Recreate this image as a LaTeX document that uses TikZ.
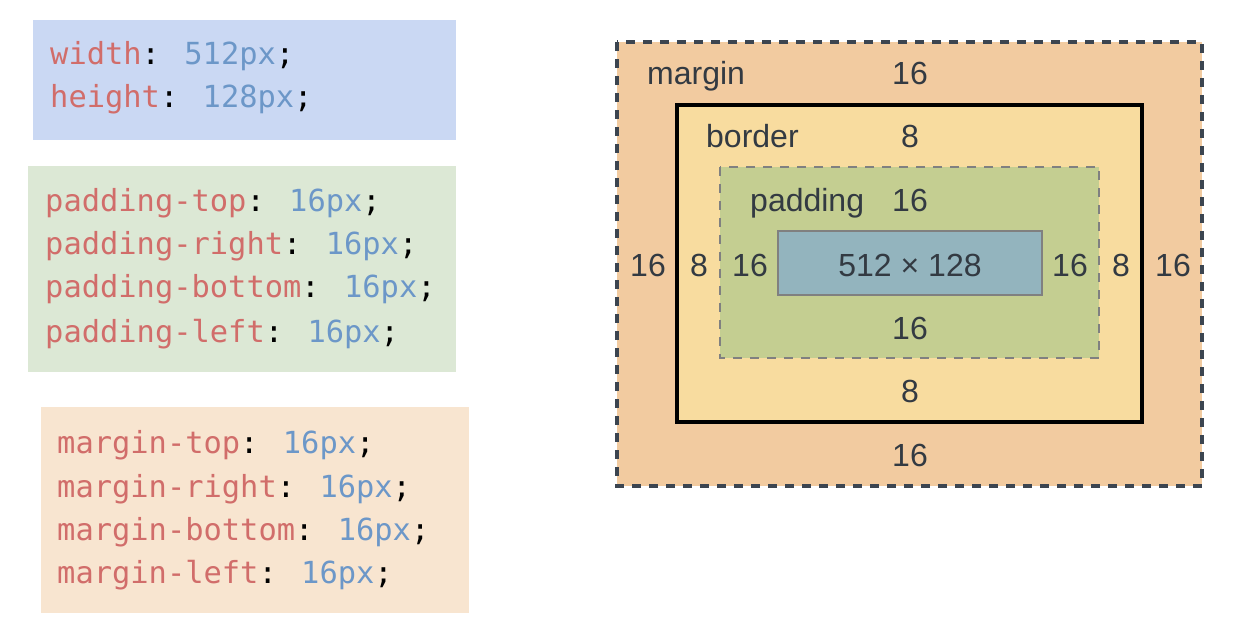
\documentclass[tikz,border=0pt]{standalone}
\usepackage{fontspec}
\setmainfont{Liberation Sans}
\newfontfamily\codefont{DejaVu Sans Mono}
\definecolor{prop}{HTML}{D16D6A}
\definecolor{val}{HTML}{6C97C8}
\definecolor{bgblue}{HTML}{CAD8F3}
\definecolor{bggreen}{HTML}{DCE8D5}
\definecolor{bgorange}{HTML}{F8E5D0}
\definecolor{marginc}{HTML}{F2CBA0}
\definecolor{borderc}{HTML}{F8DC9F}
\definecolor{paddingc}{HTML}{C4CE91}
\definecolor{contentc}{HTML}{93B4BE}
\definecolor{labelc}{HTML}{333A42}
\definecolor{dashdark}{HTML}{3C4550}
\definecolor{grayline}{HTML}{808080}
\tikzset{
  codeline/.style={anchor=base west, inner sep=0pt, font=\codefont\fontsize{30.4}{36}\selectfont},
  lbl/.style={anchor=base, inner sep=0pt, text=labelc, font=\fontsize{32}{38}\selectfont},
  lblw/.style={lbl, anchor=base west},
  dashbox/.style={line width=3.2pt, dash pattern=on 9pt off 8pt},
}
\newcommand{\cssline}[2]{\textcolor{prop}{#1}: \textcolor{val}{#2};}
\begin{document}
\begin{tikzpicture}[x=1pt,y=-1pt]
\useasboundingbox (0,0) rectangle (1248,644);
% code panels
\fill[bgblue] (33,20) rectangle (456,140);
\fill[bggreen] (28,166) rectangle (456,372);
\fill[bgorange] (41,407) rectangle (469,613);
\node[codeline] (w) at (50,65) {\cssline{width}{512px}};
\node[codeline] (h) at (50,108) {\cssline{height}{128px}};
\node[codeline] (pt) at (45,212) {\cssline{padding-top}{16px}};
\node[codeline] (pr) at (45,255) {\cssline{padding-right}{16px}};
\node[codeline] (pb) at (45,298) {\cssline{padding-bottom}{16px}};
\node[codeline] (pl) at (45,342) {\cssline{padding-left}{16px}};
\node[codeline] (mt) at (57,453) {\cssline{margin-top}{16px}};
\node[codeline] (mr) at (57,497) {\cssline{margin-right}{16px}};
\node[codeline] (mb) at (57,540) {\cssline{margin-bottom}{16px}};
\node[codeline] (ml) at (57,583) {\cssline{margin-left}{16px}};
% box model
\filldraw[fill=marginc, draw=dashdark, dashbox] (617,42) rectangle (1202,486);
\filldraw[fill=borderc, draw=black, line width=3.2pt] (677,105) rectangle (1142,422);
\filldraw[fill=paddingc, draw=grayline, dashbox, line width=2.8pt] (720,167) rectangle (1099,358);
\filldraw[fill=contentc, draw=grayline, line width=2.8pt] (778,231) rectangle (1042,295);
% labels
\node[lblw] (lm) at (647,85) {margin};
\node[lbl] (mtop) at (910,85) {16};
\node[lblw] (lb) at (706,148) {border};
\node[lbl] (btop) at (910,148) {8};
\node[lblw] (lp) at (750,212) {padding};
\node[lbl] (ptop) at (910,212) {16};
\node[lbl] (mleft) at (648,277) {16};
\node[lbl] (bleft) at (699,277) {8};
\node[lbl] (pleft) at (750,277) {16};
\node[lbl] (cont) at (910,277) {512 × 128};
\node[lbl] (pright) at (1070,277) {16};
\node[lbl] (bright) at (1121,277) {8};
\node[lbl] (mright) at (1173,277) {16};
\node[lbl] (pbot) at (910,340) {16};
\node[lbl] (bbot) at (910,402) {8};
\node[lbl] (mbot) at (910,466) {16};
\end{tikzpicture}
\end{document}
